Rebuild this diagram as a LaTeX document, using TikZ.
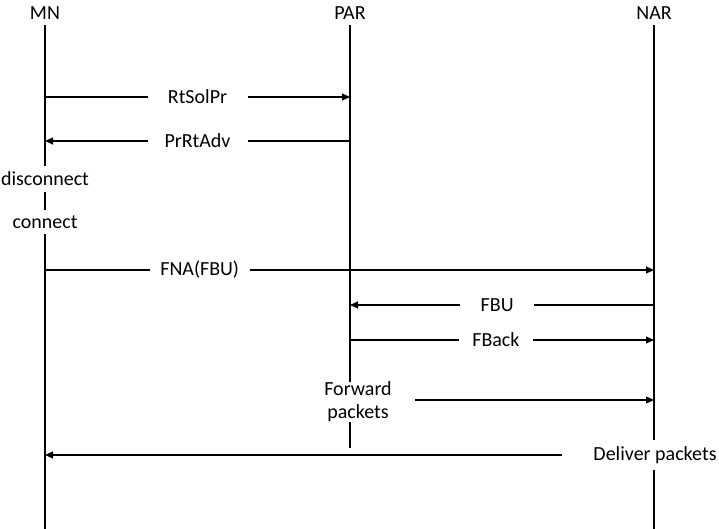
\documentclass[tikz,border=0pt]{standalone}
\usepackage{fontspec}
\setmainfont{Carlito}
\usetikzlibrary{arrows.meta,positioning}

\begin{document}
\begin{tikzpicture}[
    x=0.55pt, y=-0.55pt,
    font=\fontsize{11}{12.5}\selectfont,
    life/.style={line width=0.65pt},
    arr/.style={-{Triangle[length=4.4pt,width=3.8pt]}, line width=0.65pt},
    lbl/.style={
        fill=white,
        inner xsep=0pt,
        minimum width=55pt
    },
    lblnarrow/.style={lbl, minimum width=41pt},
    txt/.style={fill=white, align=center}
]
    \useasboundingbox (0,0) rectangle (719,529);
    %% Lebenslinien
    \node (mn) at (45,13) {MN};
    \node (par) at (350,13) {PAR};
    \node (nar) at (654,13) {NAR};
    \coordinate (mnTop) at (45,25);
    \coordinate (parTop) at (350,25);
    \coordinate (narTop) at (654,25);
    \coordinate (mnEnd) at (45,529);
    \coordinate (parEnd) at (350,448);
    \coordinate (narEnd) at (654,529);
    \draw[life] (mnTop) -- (mnEnd);
    \draw[life] (parTop) -- (parEnd);
    \draw[life] (narTop) -- (narEnd);

    %% Punkte auf den Lebenslinien
    \coordinate (mn1) at (45,97);   \coordinate (par1) at (350,97);
    \coordinate (mn2) at (45,141);  \coordinate (par2) at (350,141);
    \coordinate (mn3) at (45,270);  \coordinate (nar3) at (654,270);
    \coordinate (par4) at (350,305); \coordinate (nar4) at (654,305);
    \coordinate (par5) at (350,340); \coordinate (nar5) at (654,340);
    \coordinate (nar6) at (654,400);
    \coordinate (mn7) at (45,455);

    %% Zustand MN
    \node[txt] (disc) at (45,179) {disconnect};
    \node[txt] (conn) at (45,222) {connect};

    %% Nachrichten
    \draw[arr] (mn1) -- node[lbl, pos=0.50] {RtSolPr} (par1);
    \draw[arr] (par2) -- node[lbl, pos=0.50] {PrRtAdv} (mn2);
    \draw[arr] (mn3) -- node[lbl, pos=0.254] {FNA(FBU)} (nar3);
    \draw[arr] (nar4) -- node[lblnarrow, pos=0.516] {FBU} (par4);
    \draw[arr] (par5) -- node[lblnarrow, pos=0.48] {FBack} (nar5);

    %% Weiterleitung
    \node[txt, inner ysep=0pt] (fwd) at (358,402) {Forward\\packets};
    \coordinate (fwdStart) at (415,400);
    \draw[arr] (fwdStart) -- (nar6);

    \node[txt] (dlv) at (655,455) {Deliver packets};
    \coordinate (dlvStart) at (562,455);
    \draw[arr] (dlvStart) -- (mn7);
\end{tikzpicture}
\end{document}
